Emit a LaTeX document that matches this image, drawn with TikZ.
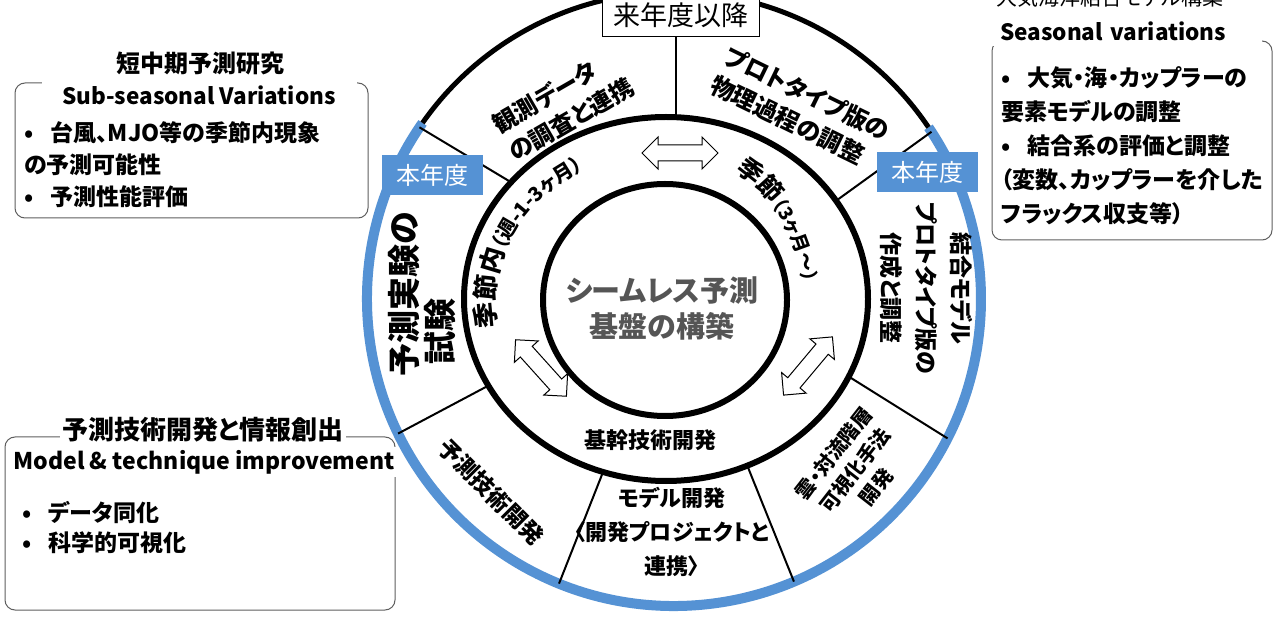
\documentclass[tikz,border=0pt]{standalone}
\usepackage{fontspec}
\newfontfamily\jpfont{Noto Sans CJK JP}[RawFeature=+palt]
\usetikzlibrary{shapes.geometric,shapes.arrows,decorations.text}
\definecolor{ringblue}{RGB}{85,146,212}
\definecolor{boxgray}{RGB}{95,95,95}
\definecolor{centgray}{RGB}{85,85,85}
\begin{document}
\begin{tikzpicture}[x=1pt,y=-1pt,
  jt/.style 2 args={font=\jpfont\bfseries\fontsize{#1}{#2}\selectfont, inner sep=0pt, align=center},
  et/.style={font=\jpfont\bfseries\fontsize{#1}{#1}\selectfont, inner sep=0pt},
  infobox/.style={draw=boxgray, line width=1pt, rounded corners=10pt},
  divl/.style={line width=2pt},
  ringline/.style={line width=6pt},
  darr/.style={double arrow, draw, fill=white, line width=1pt, inner sep=0pt,
    minimum height=76pt, double arrow head extend=8pt, double arrow head indent=0pt},
  tag/.style={fill=ringblue, text=white, font=\jpfont\fontsize{24}{24}\selectfont,
    minimum width=101pt, minimum height=40pt, inner sep=0pt}
]
\useasboundingbox (0,0) rectangle (1275,617);
\fill[white] (0,0) rectangle (1275,617);

% ---------- side boxes ----------
\draw[infobox] (15,83) rectangle (368,218);
\node[jt={24}{24}] (t1) at (200,63) {短中期予測研究};
\node[et=22.5, fill=white, minimum width=315pt, minimum height=26pt] (e1) at (199,95) {Sub-seasonal Variations};
\node[jt={23}{32}, align=left, anchor=north west] (b1) at (24,121)
  {•\hspace{17pt}台風、MJO等の季節内現象\\の予測可能性\\•\hspace{17pt}予測性能評価};

\draw[infobox] (992,41) rectangle (1272,240);
\node[font=\jpfont\fontsize{21}{21}\selectfont, inner sep=0pt] (t2) at (1110,-3) {大気海洋結合モデル構築};
\node[et=22.5, fill=white, anchor=west, text width=262pt, inner xsep=8pt, minimum height=30pt, align=left] (e2) at (984,31) {\hspace{8pt}Seasonal variations};
\node[jt={23}{34}, align=left, anchor=north west] (b2) at (1001,66)
  {•\hspace{17pt}大気・海・カップラーの\\要素モデルの調整\\•\hspace{17pt}結合系の評価と調整\\（変数、カップラーを介した\\フラックス収支等）};

\draw[infobox] (5,437) rectangle (395,610);
\node[jt={26}{26}, fill=white, inner sep=2pt] (t3) at (203,430) {予測技術開発と情報創出};
\node[et=23, fill=white, inner sep=3pt] (e3) at (204,462) {Model \& technique improvement};
\node[jt={23}{30}, align=left, anchor=north west] (b3) at (22,501)
  {•\hspace{17pt}データ同化\\•\hspace{17pt}科学的可視化};

% ---------- rings ----------
\node[circle, minimum size=614pt, inner sep=0pt, outer sep=0pt] (out) at (674,299) {};
\draw[ringblue, line width=10pt] (out.145) arc[start angle=-145, end angle=-394, radius=307];
\draw[line width=5pt] (out.34) arc[start angle=-34, end angle=-145, radius=307];
\node[ellipse, draw, ringline, minimum width=404pt, minimum height=364pt, inner sep=0pt, outer sep=0pt] (mid) at (666,299) {};
\node[ellipse, draw, ringline, minimum width=244pt, minimum height=232pt, inner sep=0pt, outer sep=0pt] (core) at (665,300) {};

% ---------- top box ----------
\node[draw, line width=1pt, fill=white, font=\jpfont\fontsize{27}{27}\selectfont,
  minimum width=157pt, minimum height=44pt, inner sep=0pt] (next) at (681,15) {来年度以降};

% ---------- dividers ----------
\draw[divl] (mid.143) -- (out.146);
\draw[divl] ([xshift=-5pt]next.south) -- ([xshift=-5pt]next.south |- mid.north);
\draw[divl] (mid.30) -- (out.33);
\draw[divl] (mid.-23) -- (out.-27);
\draw[divl] (mid.-64) -- (out.-67);
\draw[divl] (mid.-110) -- (out.-112);
\draw[divl] (mid.206) -- (out.206);

% ---------- arrows ----------
\node[darr] (a1) at (680,153) {\rule{0pt}{15pt}};
\node[darr, rotate=-48] (a2) at (541,368) {\rule{0pt}{15pt}};
\node[darr, rotate=50] (a3) at (808,366) {\rule{0pt}{15pt}};

% ---------- annulus texts ----------
\path[decorate, decoration={text along path, text align=center,
  text={|\jpfont\bfseries\fontsize{26}{26}\selectfont|季節内|\jpfont\bfseries\fontsize{20}{20}\selectfont|（週-1-3ヶ月）}}]
  (663,302) ++(-222:168 and 150) arc[start angle=-222, end angle=-88, x radius=168, y radius=150];
\path[decorate, decoration={text along path, text align=center,
  text={|\jpfont\bfseries\fontsize{25}{25}\selectfont|季節|\jpfont\bfseries\fontsize{19}{19}\selectfont|（3ヶ月～）}}]
  (663,302) ++(-82:141 and 153) arc[start angle=-82, end angle=14, x radius=141, y radius=153];
\node[jt={22}{22}] (kk) at (650,440) {基幹技術開発};
\node[jt={29}{36}, text=centgray] (cc) at (662,308) {シームレス予測\\基盤の構築};

% ---------- sector texts ----------
\node[jt={24}{32}, align=left, rotate=30] (s1) at (563,105) {観測データ\\の調査と連携};
\node[jt={24}{32}, align=left, rotate=-26] (s2) at (800,108) {プロトタイプ版の\\物理過程の調整};
\node[jt={23}{35}, rotate=-90] (s3) at (926,288) {結合モデル\\プロトタイプ版の\\作成と調整};
\node[jt={20}{27}, rotate=52] (s4) at (855,470) {雲・対流階層\\可視化手法\\開発};
\node[jt={22}{34}] (s5) at (672,532) {モデル開発\\〈開発プロジェクトと\\連携〉};
\node[jt={23}{23}, rotate=-45] (s6) at (491,492) {予測技術開発};
\node[jt={33}{36}, align=left, rotate=90] (s7) at (422,294) {予測実験の\\\hspace*{12pt}試験};

% ---------- tags ----------
\node[tag] (hl) at (432,175) {本年度};
\node[tag] (hr) at (927,172) {本年度};
\end{tikzpicture}
\end{document}
